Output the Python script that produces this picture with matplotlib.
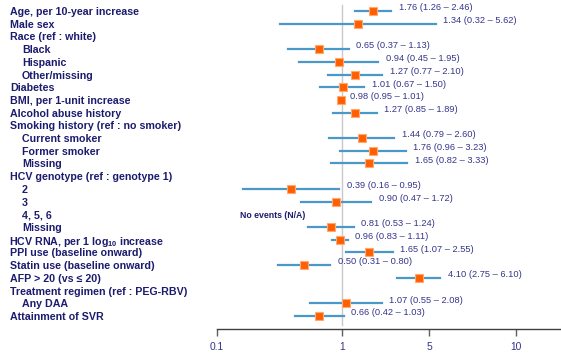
import numpy as np
import matplotlib
matplotlib.use('Agg')
from matplotlib import pyplot as plt
from matplotlib import transforms

plt.rcParams['font.family'] = ['Liberation Sans', 'DejaVu Sans']
plt.rcParams['mathtext.default'] = 'regular'

# row labels, indent flag (1 = sub-level)
labels = ['Age, per 10-year increase', 'Male sex', 'Race (ref : white)', 'Black', 'Hispanic',
          'Other/missing', 'Diabetes', 'BMI, per 1-unit increase', 'Alcohol abuse history',
          'Smoking history (ref : no smoker)', 'Current smoker', 'Former smoker', 'Missing',
          'HCV genotype (ref : genotype 1)', '2', '3', '4, 5, 6', 'Missing',
          'HCV RNA, per 1 log$_{10}$ increase', 'PPI use (baseline onward)',
          'Statin use (baseline onward)', 'AFP > 20 (vs \u2264 20)',
          'Treatment regimen (ref : PEG-RBV)', 'Any DAA', 'Attainment of SVR']
indent = [0, 0, 0, 1, 1, 1, 0, 0, 0, 0, 1, 1, 1, 0, 1, 1, 1, 1, 0, 0, 0, 0, 0, 1, 0]
nan = np.nan
hr = [1.76, 1.34, nan, 0.65, 0.94, 1.27, 1.01, 0.98, 1.27, nan, 1.44, 1.76, 1.65,
      nan, 0.39, 0.90, nan, 0.81, 0.96, 1.65, 0.50, 4.10, nan, 1.07, 0.66]
lo = [1.26, 0.32, nan, 0.37, 0.45, 0.77, 0.67, 0.95, 0.85, nan, 0.79, 0.96, 0.82,
      nan, 0.16, 0.47, nan, 0.53, 0.83, 1.07, 0.31, 2.75, nan, 0.55, 0.42]
hi = [2.46, 5.62, nan, 1.13, 1.95, 2.10, 1.50, 1.01, 1.89, nan, 2.60, 3.23, 3.33,
      nan, 0.95, 1.72, nan, 1.24, 1.11, 2.55, 0.80, 6.10, nan, 2.08, 1.03]
tick_vals = [0.1, 1, 5, 24.7]   # the "10" label sits further right in the original
tick_labels = ['0.1', '1', '5', '10']

navy = '#1c1c6e'
txt = '#35358a'

fig = plt.figure(figsize=(5.61, 3.53), dpi=100)
ax = fig.add_axes([217 / 561, 24 / 353, 344 / 561, 329 / 353])
ax.set_xscale('log')
ax.set_xlim(0.1, 0.1 * 10 ** (344 / 125))
ax.set_ylim(24 + 13 / 12.7, -11 / 12.7)

ax.plot([1, 1], [-0.45, 24.7], color='#c8c8c8', lw=1, zorder=1)

y = np.arange(len(labels))
for i in range(len(labels)):
    if np.isnan(hr[i]):
        continue
    ax.plot([lo[i], hi[i]], [y[i], y[i]], color='#4a98c8', lw=1.6, zorder=2)
    ax.plot(hr[i], y[i], 's', color='#ff5f00', mec='#ffaa70', mew=0.8, ms=6, zorder=3)
    ax.annotate('%.2f (%.2f \u2013 %.2f)' % (hr[i], lo[i], hi[i]), (hi[i], y[i]),
                xytext=(5.5, 3), textcoords='offset points', va='center_baseline',
                ha='left', fontsize=6.7, color=txt)

ax.text(0.152, 16, 'No events (N/A)', fontsize=6.3, fontweight='bold', color=navy,
        va='center_baseline', ha='left')

# left labels
trans = transforms.blended_transform_factory(fig.transFigure, ax.transData)
for i, lab in enumerate(labels):
    x0 = (22 if indent[i] else 10) / 561
    if '$' in lab:
        x0 -= 1 / 561   # mathtext adds a little lead-in
    ax.text(x0, y[i], lab, transform=trans, fontsize=7.7, fontweight='bold',
            color=navy, va='center_baseline', ha='left', clip_on=False)

for s in ['top', 'right', 'left']:
    ax.spines[s].set_visible(False)
ax.spines['bottom'].set_color('#404040')
ax.spines['bottom'].set_linewidth(1)
ax.set_yticks([])
ax.set_xticks(tick_vals)
ax.set_xticklabels(tick_labels)
ax.xaxis.set_minor_locator(matplotlib.ticker.NullLocator())
ax.tick_params(axis='x', length=5, width=1, color='#606060', labelsize=7.4,
               labelcolor=txt, pad=4)

fig.savefig('out.png', dpi=100)
